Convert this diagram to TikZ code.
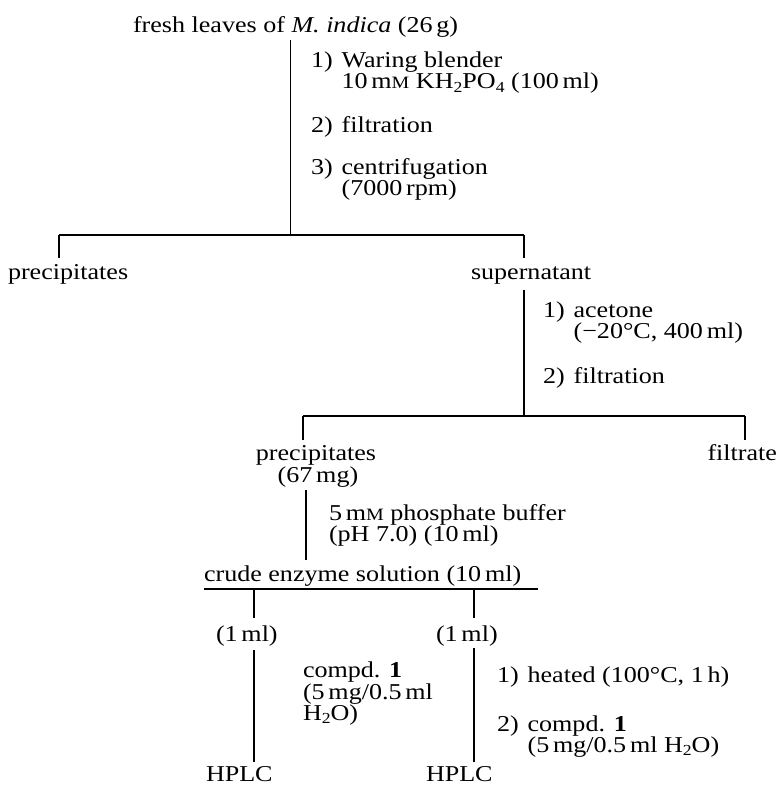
\documentclass[tikz,border=0pt]{standalone}
\usepackage{fontspec}
\setmainfont{Liberation Serif}[FakeStretch=1.15]
\usepackage{graphicx}
\newcommand\mMsc{m{\fontsize{13}{13}\selectfont M}}
\newcommand\lowidx[1]{\raisebox{-0.35ex}{\fontsize{11.5}{11.5}\selectfont #1}}
\newcommand\numbox[1]{\makebox[1.35em][l]{#1}}
\begin{document}
\begin{tikzpicture}[x=0.75pt,y=-0.75pt,
  txt/.style={anchor=base west,inner sep=0pt,outer sep=0pt,font=\fontsize{17}{18}\selectfont},
  ctxt/.style={txt,anchor=base},
  etxt/.style={txt,anchor=base east},
  ln/.style={line width=0.8pt}]
\useasboundingbox (0,0) rectangle (777,787);
% texts
\node[txt] (title) at (133,33) {fresh leaves of \textit{M. indica} (26\,g)};
\node[txt] (s1a) at (311,68) {\numbox{1)}Waring blender};
\node[txt] (s1b) at (311,89) {\numbox{}10\,\mMsc{} KH\lowidx{2}PO\lowidx{4} (100\,ml)};
\node[txt] (s2) at (311,133) {\numbox{2)}filtration};
\node[txt] (s3a) at (311,175) {\numbox{3)}centrifugation};
\node[txt] (s3b) at (311,196) {\numbox{}(7000\,rpm)};
\node[txt] (prec1) at (8,280) {precipitates};
\node[txt] (super) at (471,280) {supernatant};
\node[txt] (a1a) at (543,318) {\numbox{1)}acetone};
\node[txt] (a1b) at (543,339) {\numbox{}(−20°C, 400\,ml)};
\node[txt] (a2) at (543,383) {\numbox{2)}filtration};
\node[ctxt] (prec2a) at (316,460) {precipitates};
\node[ctxt] (prec2b) at (318,482) {(67\,mg)};
\node[etxt] (filt) at (777,460) {filtrate};
\node[txt] (buf1) at (329,520) {5\,\mMsc{} phosphate buffer};
\node[txt] (buf2) at (329,541) {(pH 7.0) (10\,ml)};
\node[txt] (crude) at (204,581) {crude enzyme solution (10\,ml)};
\node[txt] (ml1) at (216,641) {(1\,ml)};
\node[txt] (ml2) at (436,641) {(1\,ml)};
\node[txt] (ca1) at (303,677) {compd. \textbf{1}};
\node[txt] (ca2) at (303,699) {(5\,mg/0.5\,ml};
\node[txt] (ca3) at (303,720) {H\lowidx{2}O)};
\node[txt] (cb1) at (497,682) {\numbox{1)}heated (100°C, 1\,h)};
\node[txt] (cb2) at (497,731) {\numbox{2)}compd. \textbf{1}};
\node[txt] (cb3) at (497,752) {\numbox{}(5\,mg/0.5\,ml H\lowidx{2}O)};
\node[txt] (hplc1) at (206,781) {HPLC};
\node[txt] (hplc2) at (426,781) {HPLC};
% junction coordinates
\coordinate (v0t) at (290.7,40);
\coordinate (v0b) at (290.7,235);
\coordinate (h1l) at (59,235);
\coordinate (h1r) at (524,235);
\coordinate (d1l) at (59,258);
\coordinate (d1r) at (524,258);
\coordinate (v1t) at (524,290);
\coordinate (v1b) at (524,416);
\coordinate (h2l) at (303,416);
\coordinate (h2r) at (745,416);
\coordinate (d2l) at (303,440);
\coordinate (d2r) at (745,440);
\coordinate (v2t) at (306,490);
\coordinate (v2b) at (306,560);
\coordinate (ul) at (204,589);
\coordinate (ur) at (538,589);
\coordinate (d3l) at (254,618);
\coordinate (d3r) at (474,618);
\coordinate (v3lt) at (254,650);
\coordinate (v3lb) at (254,762);
\coordinate (v3rt) at (474,648);
\coordinate (v3rb) at (474,762);
% connectors
\draw[ln] (v0t) -- (v0b);
\draw[ln] (h1l) -- (h1r);
\draw[ln] (h1l) -- (d1l);
\draw[ln] (h1r) -- (d1r);
\draw[ln] (v1t) -- (v1b);
\draw[ln] (h2l) -- (h2r);
\draw[ln] (h2l) -- (d2l);
\draw[ln] (h2r) -- (d2r);
\draw[ln] (v2t) -- (v2b);
\draw[ln] (ul) -- (ur);
\draw[ln] (ul -| d3l) -- (d3l);
\draw[ln] (ul -| d3r) -- (d3r);
\draw[ln] (v3lt) -- (v3lb);
\draw[ln] (v3rt) -- (v3rb);
\end{tikzpicture}
\end{document}
